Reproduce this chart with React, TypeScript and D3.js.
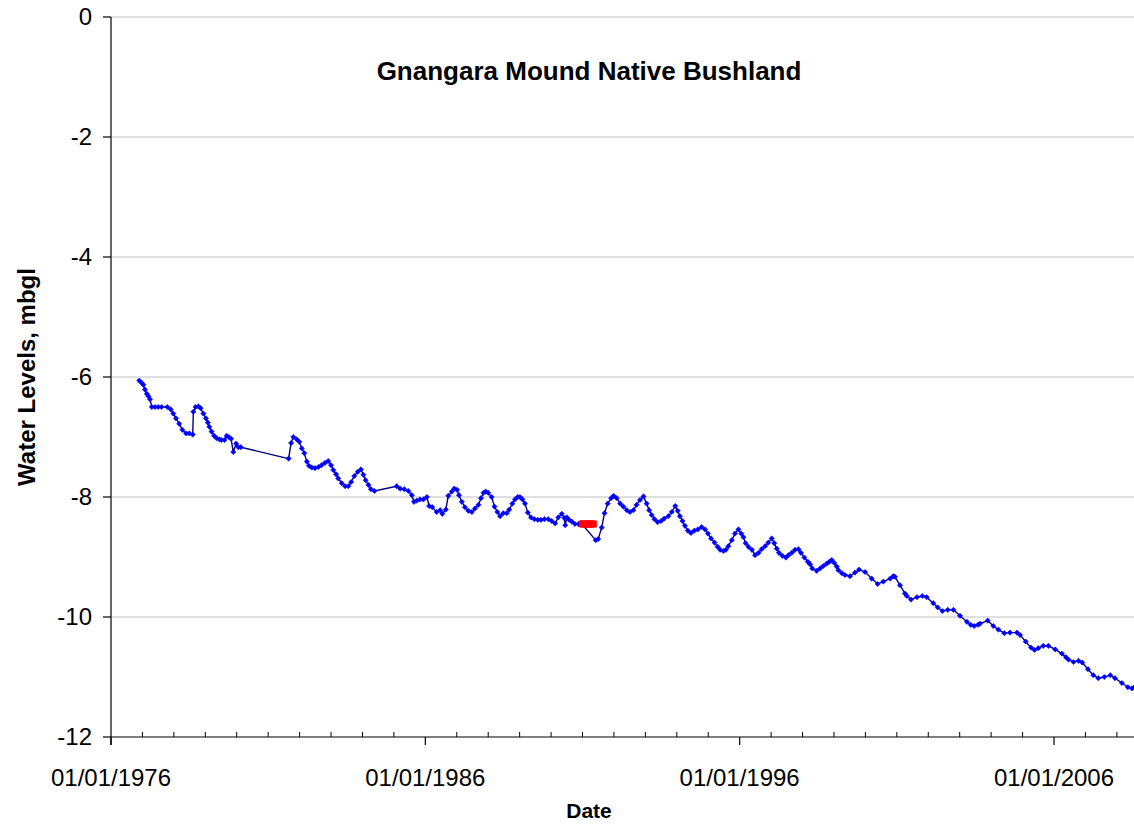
import React from "react";
import * as d3 from "d3";

const years: number[] = [
  1976.90, 1976.98, 1977.03, 1977.08, 1977.14, 1977.19, 1977.24, 1977.30, 1977.40, 1977.50,
  1977.61, 1977.79, 1977.90, 1977.98, 1978.07, 1978.17, 1978.27, 1978.39, 1978.49, 1978.60,
  1978.62, 1978.69, 1978.78, 1978.85, 1978.94, 1979.02, 1979.08, 1979.13, 1979.20, 1979.28,
  1979.36, 1979.45, 1979.52, 1979.61, 1979.68, 1979.75, 1979.82, 1979.89, 1979.98, 1980.05,
  1980.13, 1981.65, 1981.73, 1981.80, 1981.91, 1981.99, 1982.07, 1982.15, 1982.23, 1982.30,
  1982.39, 1982.49, 1982.60, 1982.70, 1982.81, 1982.91, 1983.00, 1983.07, 1983.16, 1983.23,
  1983.34, 1983.45, 1983.55, 1983.64, 1983.74, 1983.85, 1983.95, 1984.03, 1984.10, 1984.19,
  1984.27, 1984.38, 1985.09, 1985.20, 1985.33, 1985.46, 1985.57, 1985.64, 1985.73, 1985.83,
  1985.94, 1986.05, 1986.12, 1986.22, 1986.36, 1986.47, 1986.54, 1986.65, 1986.73, 1986.84,
  1986.92, 1987.01, 1987.07, 1987.16, 1987.26, 1987.37, 1987.48, 1987.58, 1987.69, 1987.77,
  1987.85, 1987.92, 1988.00, 1988.11, 1988.20, 1988.29, 1988.38, 1988.48, 1988.59, 1988.67,
  1988.77, 1988.85, 1988.94, 1989.01, 1989.09, 1989.17, 1989.26, 1989.36, 1989.47, 1989.58,
  1989.68, 1989.79, 1989.91, 1990.02, 1990.13, 1990.23, 1990.34, 1990.42, 1990.45, 1990.50,
  1990.57, 1990.66, 1990.76, 1990.87, 1990.95,
  1991.42, 1991.50, 1991.61, 1991.70, 1991.80, 1991.91, 1991.99, 1992.09, 1992.20, 1992.30,
  1992.41, 1992.51, 1992.62, 1992.72, 1992.83, 1992.94, 1993.04, 1993.12, 1993.20, 1993.29,
  1993.39, 1993.50, 1993.60, 1993.73, 1993.84, 1993.95, 1994.03, 1994.10, 1994.18, 1994.26,
  1994.35, 1994.45, 1994.56, 1994.67, 1994.79, 1994.90, 1994.99, 1995.09, 1995.20, 1995.30,
  1995.38, 1995.48, 1995.56, 1995.64, 1995.75, 1995.85, 1995.96, 1996.05, 1996.12, 1996.19,
  1996.28, 1996.39, 1996.49, 1996.60, 1996.70, 1996.81, 1996.91, 1997.02, 1997.10, 1997.18,
  1997.25, 1997.36, 1997.47, 1997.55, 1997.66, 1997.76, 1997.87, 1997.95, 1998.06, 1998.17,
  1998.24, 1998.31, 1998.45, 1998.56, 1998.66, 1998.77, 1998.85, 1998.93, 1999.01, 1999.09,
  1999.14, 1999.25, 1999.35, 1999.51, 1999.67, 1999.80, 1999.99, 2000.20, 2000.39, 2000.57,
  2000.79, 2000.89, 2000.94, 2001.10, 2001.26, 2001.32, 2001.45, 2001.64, 2001.81, 2001.95,
  2002.16, 2002.30, 2002.45, 2002.62, 2002.80, 2003.01, 2003.23, 2003.35, 2003.46, 2003.58,
  2003.65, 2003.89, 2004.07, 2004.23, 2004.42, 2004.60, 2004.82, 2004.92, 2005.10, 2005.27,
  2005.38, 2005.50, 2005.66, 2005.82, 2006.04, 2006.25, 2006.38, 2006.46, 2006.62, 2006.78,
  2006.90, 2007.08, 2007.25, 2007.41, 2007.60, 2007.79, 2007.94, 2008.16, 2008.35, 2008.48,
  2008.56,
];

const levels: number[] = [
  -6.06, -6.10, -6.13, -6.21, -6.28, -6.32, -6.37, -6.50, -6.50, -6.50,
  -6.50, -6.50, -6.54, -6.61, -6.69, -6.78, -6.88, -6.94, -6.94, -6.96,
  -6.58, -6.50, -6.49, -6.52, -6.61, -6.69, -6.76, -6.83, -6.91, -6.98,
  -7.02, -7.04, -7.05, -7.05, -6.98, -7.00, -7.03, -7.25, -7.11, -7.17,
  -7.17, -7.36, -7.10, -7.00, -7.04, -7.08, -7.19, -7.27, -7.41, -7.48,
  -7.51, -7.52, -7.50, -7.47, -7.43, -7.40, -7.47, -7.55, -7.62, -7.69,
  -7.77, -7.82, -7.82, -7.75, -7.65, -7.58, -7.54, -7.63, -7.72, -7.80,
  -7.87, -7.90, -7.82, -7.86, -7.87, -7.90, -7.97, -8.08, -8.06, -8.04,
  -8.04, -8.00, -8.15, -8.17, -8.25, -8.22, -8.28, -8.21, -7.98, -7.91,
  -7.86, -7.88, -7.97, -8.08, -8.17, -8.23, -8.25, -8.19, -8.13, -8.02,
  -7.93, -7.91, -7.93, -8.00, -8.16, -8.25, -8.32, -8.27, -8.27, -8.21,
  -8.11, -8.04, -8.00, -8.00, -8.04, -8.11, -8.26, -8.34, -8.37, -8.38,
  -8.38, -8.37, -8.37, -8.40, -8.44, -8.34, -8.28, -8.35, -8.47, -8.34,
  -8.38, -8.41, -8.45, -8.45, -8.43,
  -8.72, -8.70, -8.51, -8.27, -8.11, -8.02, -7.98, -8.02, -8.11, -8.16,
  -8.22, -8.25, -8.22, -8.13, -8.05, -7.99, -8.11, -8.22, -8.30, -8.37,
  -8.42, -8.40, -8.36, -8.32, -8.25, -8.15, -8.23, -8.32, -8.40, -8.48,
  -8.56, -8.60, -8.56, -8.54, -8.50, -8.54, -8.61, -8.69, -8.76, -8.83,
  -8.88, -8.90, -8.88, -8.82, -8.72, -8.61, -8.54, -8.61, -8.67, -8.77,
  -8.83, -8.88, -8.97, -8.93, -8.87, -8.82, -8.76, -8.69, -8.77, -8.86,
  -8.93, -8.98, -9.01, -8.97, -8.93, -8.88, -8.87, -8.93, -9.01, -9.08,
  -9.12, -9.19, -9.23, -9.19, -9.15, -9.11, -9.08, -9.05, -9.10, -9.16,
  -9.22, -9.27, -9.30, -9.32, -9.26, -9.21, -9.25, -9.36, -9.45, -9.41,
  -9.36, -9.32, -9.33, -9.47, -9.61, -9.65, -9.71, -9.67, -9.65, -9.67,
  -9.77, -9.84, -9.90, -9.88, -9.88, -9.98, -10.08, -10.13, -10.15, -10.13,
  -10.11, -10.06, -10.15, -10.21, -10.27, -10.26, -10.26, -10.30, -10.41, -10.51,
  -10.55, -10.52, -10.48, -10.48, -10.54, -10.61, -10.67, -10.71, -10.75, -10.73,
  -10.76, -10.87, -10.97, -11.02, -11.00, -10.97, -11.02, -11.10, -11.17, -11.19,
  -11.17,
];

const redYears: number[] = [1990.99, 1991.03, 1991.07, 1991.11, 1991.15, 1991.19, 1991.23, 1991.27, 1991.31, 1991.35];
const redLevels: number[] = [-8.45, -8.45, -8.45, -8.45, -8.45, -8.45, -8.45, -8.45, -8.45, -8.45];

const yTicks: number[] = [0, -2, -4, -6, -8, -10, -12];
const majorYears: number[] = [1976, 1986, 1996, 2006];
const majorLabels: string[] = ["01/01/1976", "01/01/1986", "01/01/1996", "01/01/2006"];
const minorYears: number[] = d3.range(1977, 2009);

const W = 1134;
const H = 825;
const left = 111;
const right = 1134;
const top = 17;
const bottom = 737;
const FONT = "Arial, 'Liberation Sans', Helvetica, sans-serif";

export default function App() {
  const x = d3.scaleLinear().domain([1976, 2006]).range([111, 1054]);
  const y = d3.scaleLinear().domain([-12, 0]).range([bottom, top]);

  const blue = years.map((yr, i) => [yr, levels[i]] as [number, number]);
  const red = redYears.map((yr, i) => [yr, redLevels[i]] as [number, number]);
  const line = d3.line<[number, number]>().x((d) => x(d[0])).y((d) => y(d[1]));

  const diamond = (cx: number, cy: number, r: number) =>
    `M${cx},${cy - r}L${cx + r},${cy}L${cx},${cy + r}L${cx - r},${cy}Z`;

  return (
    <div style={{ position: "absolute", left: 0, top: 0 }}>
      <svg width={W} height={H} style={{ display: "block", background: "#fff" }} fontFamily={FONT}>
        <defs>
          <clipPath id="plotclip">
            <rect x={left} y={top - 5} width={right - left} height={bottom - top + 10} />
          </clipPath>
        </defs>
        {yTicks.filter((t) => t !== -12).map((t) => (
          <line key={"g" + t} x1={left} x2={right} y1={y(t)} y2={y(t)} stroke="#c0c0c0" strokeWidth={1} />
        ))}
        <line x1={left} x2={left} y1={top} y2={bottom + 8} stroke="#000" strokeWidth={1.2} />
        {yTicks.map((t) => (
          <g key={"yt" + t}>
            <line x1={left - 8} x2={left} y1={y(t)} y2={y(t)} stroke="#000" strokeWidth={1.2} />
            <text x={92} y={y(t)} dy="0.35em" textAnchor="end" fontSize={24} fill="#000">
              {t}
            </text>
          </g>
        ))}
        <line x1={left} x2={right} y1={bottom} y2={bottom} stroke="#000" strokeWidth={1.2} />
        {minorYears.filter((m) => !majorYears.includes(m)).map((m) => (
          <line key={"mt" + m} x1={x(m)} x2={x(m)} y1={bottom - 5} y2={bottom} stroke="#000" strokeWidth={1} />
        ))}
        {majorYears.map((m, i) => (
          <g key={"Mt" + m}>
            <line x1={x(m)} x2={x(m)} y1={bottom} y2={bottom + 8} stroke="#000" strokeWidth={1.2} />
            <text x={x(m)} y={786} textAnchor="middle" fontSize={24} fill="#000">
              {majorLabels[i]}
            </text>
          </g>
        ))}
        <g clipPath="url(#plotclip)">
          <path d={line(blue) || ""} fill="none" stroke="#000080" strokeWidth={1.4} />
          {blue.map((d, i) => (
            <path key={"b" + i} d={diamond(x(d[0]), y(d[1]), 2.6)} fill="#0000ff" stroke="#0000ff" strokeWidth={0.6} />
          ))}
          <path d={line(red) || ""} fill="none" stroke="#ff0000" strokeWidth={1.4} />
          {red.map((d, i) => (
            <rect key={"r" + i} x={x(d[0]) - 3.4} y={y(d[1]) - 3.4} width={6.8} height={6.8} fill="#ff0000" />
          ))}
        </g>
        <text x={589} y={80} textAnchor="middle" fontSize={26} fontWeight="bold" fill="#000">
          Gnangara Mound Native Bushland
        </text>
        <text x={589} y={818} textAnchor="middle" fontSize={21} fontWeight="bold" fill="#000">
          Date
        </text>
        <text transform={`translate(35,377) rotate(-90)`} textAnchor="middle" fontSize={24} fontWeight="bold" fill="#000">
          Water Levels, mbgl
        </text>
      </svg>
    </div>
  );
}
